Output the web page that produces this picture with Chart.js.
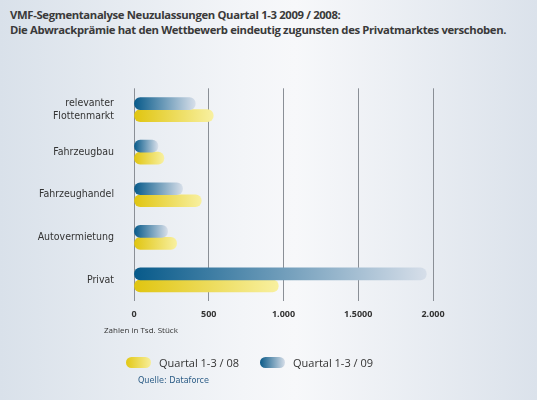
<!DOCTYPE html>
<html><head><meta charset="utf-8">
<script src="https://cdn.jsdelivr.net/npm/chart.js@4"></script>
<style>
  body{margin:0;width:537px;height:400px;overflow:hidden;font-family:"Open Sans",sans-serif;
    background:linear-gradient(90deg,#d9e1ea 0%,#f3f5f8 45%,#f7f8fa 55%,#dbe2eb 100%);position:relative}
  .title{position:absolute;left:10px;top:7px;font-size:11.3px;font-weight:bold;color:#3a3a3a;line-height:15px;letter-spacing:-0.35px;white-space:nowrap}
  #wrap{position:absolute;left:0;top:70px;width:537px;height:258px}
  .unit{position:absolute;left:104px;top:324px;font-size:8px;color:#333}
  .leg{position:absolute;top:355px;font-size:11px;color:#333;display:flex;align-items:center}
  .sw{width:25px;height:11px;border-radius:6px;margin-right:8px}
  .src{position:absolute;left:138px;top:375px;font-size:9px;color:#2b5c86;font-family:"DejaVu Sans Condensed",sans-serif}
</style></head>
<body>
<div class="title">VMF-Segmentanalyse Neuzulassungen Quartal 1-3 2009 / 2008:<br>Die Abwrackprämie hat den Wettbewerb eindeutig zugunsten des Privatmarktes verschoben.</div>
<div id="wrap"><canvas id="c"></canvas></div>
<div class="unit">Zahlen in Tsd. Stück</div>
<div class="leg" style="left:126px"><div class="sw" style="background:linear-gradient(90deg,#e2c815,#f7ee9a)"></div>Quartal 1-3 / 08</div>
<div class="leg" style="left:260px"><div class="sw" style="background:linear-gradient(90deg,#0b5a88,#d5dde8)"></div>Quartal 1-3 / 09</div>
<div class="src">Quelle: Dataforce</div>
<script>
const categories = [['relevanter','Flottenmarkt'], 'Fahrzeugbau', 'Fahrzeughandel', 'Autovermietung', 'Privat'];
const values09 = [410, 160, 325, 225, 1955];
const values08 = [530, 200, 450, 285, 965];
const tickLabels = {0:'0', 500:'500', 1000:'1.000', 1500:'1.5000', 2000:'2.000'};

// gradient from axis zero to the end of each bar
function grad(from, to) {
  return ctx => {
    const chart = ctx.chart, x = chart.scales.x;
    if (!chart.chartArea || !x) return from;
    const x0 = x.getPixelForValue(0), x1 = x.getPixelForValue(ctx.raw);
    const g = chart.ctx.createLinearGradient(x0, 0, Math.max(x1, x0 + 1), 0);
    g.addColorStop(0, from);
    g.addColorStop(1, to);
    return g;
  };
}

new Chart(document.getElementById('c'), {
  type: 'bar',
  data: {
    labels: categories,
    datasets: [
      { label: 'Quartal 1-3 / 09', data: values09, backgroundColor: grad('#075a8a', '#d6dee9'),
        borderRadius: 6, borderSkipped: false, barThickness: 12 },
      { label: 'Quartal 1-3 / 08', data: values08, backgroundColor: grad('#e0c510', '#f8f0a0'),
        borderRadius: 6, borderSkipped: false, barThickness: 12 }
    ]
  },
  options: {
    indexAxis: 'y',
    responsive: true,
    maintainAspectRatio: false,
    animation: false,
    categoryPercentage: 0.68,
    layout: { padding: { left: 0, right: 104, top: 0, bottom: 0 } },
    plugins: { legend: { display: false }, tooltip: { enabled: false } },
    scales: {
      x: {
        min: 0, max: 2000,
        grid: { color: '#8a8f96', lineWidth: 1, drawTicks: false },
        border: { display: false },
        ticks: { stepSize: 500, color: '#333', padding: 8,
          font: { family: 'Open Sans', size: 9, weight: 'bold' },
          callback: v => tickLabels[v] }
      },
      y: {
        grid: { display: false },
        border: { display: false },
        afterFit: s => { s.width = 134; },
        ticks: { color: '#333', padding: 12,
          font: { family: 'DejaVu Sans Condensed', size: 10.5 } }
      }
    }
  }
});
</script>
</body></html>
